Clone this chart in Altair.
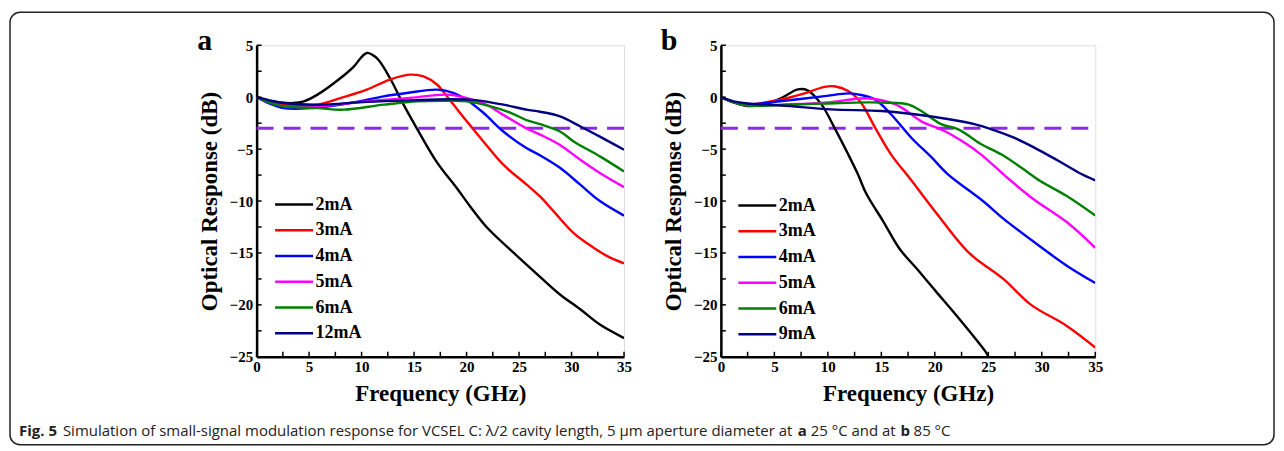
import altair as alt
import pandas as pd

# ---------------- data ----------------
NAMES_A = ["2mA", "3mA", "4mA", "5mA", "6mA", "12mA"]
NAMES_B = ["2mA", "3mA", "4mA", "5mA", "6mA", "9mA"]
COLORS = ["#000000", "#FF0000", "#0000FF", "#FF00FF", "#008000", "#000080"]

# panel a (25 °C)
a2_f = [0, 1.5, 3.5, 4.5, 5.8, 8.0, 9.3, 9.9, 10.5, 11.0, 11.6, 12.7, 14.0, 15.6, 17.2, 19.1, 20.4, 21.9, 24.5, 27, 28.9, 30.8, 32.7, 35]
a2_v = [0, -0.4, -0.56, -0.4, 0.25, 1.85, 3.0, 3.75, 4.26, 4.1, 3.6, 1.85, -0.72, -3.6, -6.3, -8.8, -10.6, -12.5, -15.0, -17.3, -19.0, -20.4, -21.9, -23.2]
a3_f = [0, 1.5, 2.6, 4.5, 5.8, 8.0, 10.5, 12.7, 14.6, 15.9, 17.2, 18.5, 20, 21.6, 23.5, 25.7, 27, 28.3, 30.2, 32.1, 33.4, 35]
a3_v = [0, -0.5, -0.72, -0.8, -0.72, -0.08, 0.73, 1.7, 2.17, 2.0, 1.2, -0.4, -2.3, -4.26, -6.5, -8.4, -9.56, -11.0, -13.1, -14.5, -15.3, -16.0]
a4_f = [0, 1.2, 2.6, 5.1, 8.9, 12.1, 14.3, 17.2, 18.8, 20, 21.6, 23.5, 25.7, 27, 28.9, 30.8, 32.7, 35]
a4_v = [0, -0.6, -1.05, -1.05, -0.56, 0.08, 0.4, 0.73, 0.4, -0.24, -1.5, -3.3, -4.9, -5.6, -6.8, -8.4, -10.0, -11.4]
a5_f = [0, 1.2, 2.6, 5.8, 10.5, 14.6, 18.1, 20, 21.6, 23.5, 25.7, 27, 28.9, 30.8, 32.7, 35]
a5_v = [0, -0.5, -0.88, -0.88, -0.4, -0.08, 0.25, -0.08, -0.56, -1.7, -3.0, -3.6, -4.6, -6.0, -7.3, -8.66]
a6_f = [0, 1.2, 2.6, 5.8, 8.3, 12.1, 15.3, 18.5, 20, 22.3, 24.2, 25.7, 27, 28.9, 30.2, 32.7, 35]
a6_v = [0, -0.5, -0.88, -1.05, -1.2, -0.72, -0.4, -0.35, -0.4, -0.88, -1.5, -2.2, -2.6, -3.3, -4.26, -5.7, -7.15]
a12_f = [0, 1.2, 2.6, 5.8, 10.5, 14.6, 18.5, 21, 23.5, 25.7, 27, 28.9, 30.8, 32.7, 35]
a12_v = [0, -0.3, -0.56, -0.72, -0.45, -0.3, -0.2, -0.3, -0.72, -1.2, -1.4, -1.85, -2.8, -3.8, -5.06]

# panel b (85 °C)
b2_f = [0, 1.2, 2.5, 4.1, 5.7, 7.2, 8.1, 9.4, 10.6, 11.9, 12.8, 13.6, 15.2, 16.7, 18.3, 20.1, 22, 24.8, 25]
b2_v = [0, -0.5, -0.85, -0.69, -0.05, 0.75, 0.66, -0.69, -2.9, -5.5, -7.4, -9.3, -12.0, -14.6, -16.5, -18.7, -21.0, -24.6, -25]
b3_f = [0, 1.2, 2.5, 5.7, 7.5, 9.7, 10.6, 11.9, 13.1, 14.4, 15.9, 17.8, 20.1, 23.2, 26.4, 29.0, 32.3, 35]
b3_v = [0, -0.5, -0.7, -0.2, 0.27, 1.0, 1.05, 0.6, -0.53, -2.9, -5.5, -8.0, -11.1, -15.0, -17.5, -20.0, -22.0, -24.1]
b4_f = [0, 1.2, 2.5, 5.7, 9.7, 11.9, 12.8, 14.4, 15.9, 17.8, 19.7, 21.2, 24.5, 26.4, 30, 32.3, 35]
b4_v = [0, -0.5, -0.7, -0.37, 0.1, 0.37, 0.27, -0.21, -1.64, -3.9, -5.8, -7.4, -10.0, -11.7, -14.5, -16.2, -17.9]
b5_f = [0, 1.2, 2.5, 6, 10, 13.6, 15.8, 16.9, 18.7, 20.9, 22.5, 24.3, 26.6, 29.2, 32.3, 35]
b5_v = [0, -0.5, -0.8, -0.7, -0.5, -0.1, -0.5, -1.0, -2.3, -3.25, -4.2, -5.5, -7.6, -9.8, -12.0, -14.5]
b6_f = [0, 1.2, 2.5, 7, 10, 14, 17.5, 18.7, 20.6, 22.2, 24.3, 26.2, 28.1, 29.9, 32.3, 35]
b6_v = [0, -0.5, -0.8, -0.7, -0.6, -0.5, -0.69, -1.3, -2.6, -3.1, -4.5, -5.5, -6.8, -8.1, -9.5, -11.4]
b9_f = [0, 1.2, 2.5, 5.7, 10.3, 15.0, 18.1, 21.2, 23.7, 25.3, 27.4, 29.3, 31.5, 33.7, 35]
b9_v = [0, -0.4, -0.6, -0.8, -1.17, -1.33, -1.64, -2.1, -2.6, -3.1, -3.9, -4.85, -6.1, -7.4, -8.0]

THRESHOLD_DB = -3
X_LABELS = [0, 5, 10, 15, 20, 25, 30, 35]
Y_LABELS = [5, 0, -5, -10, -15, -20, -25]
X_TICKS = [0, 2.5, 5, 7.5, 10, 12.5, 15, 17.5, 20, 22.5, 25, 27.5, 30, 32.5, 35]
Y_TICKS = [-25, -22.5, -20, -17.5, -15, -12.5, -10, -7.5, -5, -2.5, 0, 2.5, 5]

CAPTION = [
    ("Fig. 5", "bold", 0),
    ("Simulation of small-signal modulation response for VCSEL C: \u03bb/2 cavity length, 5 \u03bcm aperture diameter at", "normal", 44),
    ("a", "bold", 780),
    ("25 \u00b0C and at", "normal", 793),
    ("b", "bold", 883),
    ("85 \u00b0C", "normal", 896),
]

SERIF = "Liberation Serif"
PURPLE = "#8B2BE8"


def panel(series, names, w, h, letter, leg_x, leg_y, extras=None):
    rows = []
    for name, (fs, vs) in zip(names, series):
        rows += [{"f": f, "dB": v, "I": name} for f, v in zip(fs, vs)]
    df = pd.DataFrame(rows)
    xs = alt.Scale(domain=[0, 35], nice=False, zero=False)
    ys = alt.Scale(domain=[-25, 5], nice=False, zero=False)
    xax = alt.Axis(values=X_LABELS, title="Frequency (GHz)", ticks=False, grid=False,
                   labelFont=SERIF, labelFontWeight="bold", labelFontSize=15, labelColor="black",
                   labelPadding=3, titleFont=SERIF, titleFontWeight="bold", titleFontSize=23,
                   titleColor="black", titlePadding=8, domainColor="black", domainWidth=2.5,
                   labelFlush=False, labelOverlap=False)
    yax = alt.Axis(values=Y_LABELS, title="Optical Response (dB)", ticks=False, grid=False,
                   labelFont=SERIF, labelFontWeight="bold", labelFontSize=15, labelColor="black",
                   labelPadding=4, titleFont=SERIF, titleFontWeight="bold", titleFontSize=23,
                   titleColor="black", titlePadding=8, domainColor="black", domainWidth=2.5,
                   labelFlush=False, labelOverlap=False)
    X = alt.X("f:Q", scale=xs, axis=xax)
    Y = alt.Y("dB:Q", scale=ys, axis=yax)

    lines = alt.Chart(df).mark_line(strokeWidth=2.4, interpolate="catmull-rom", clip=True).encode(
        x=X, y=Y,
        color=alt.Color("I:N", sort=names, scale=alt.Scale(domain=names, range=COLORS),
                        legend=alt.Legend(title=None, orient="none", legendX=leg_x, legendY=leg_y,
                                          symbolType="M-1.9,0H1.9", symbolSize=400,
                                          symbolStrokeWidth=2.5,
                                          labelFont=SERIF, labelFontWeight="bold", labelFontSize=18,
                                          labelColor="black", rowPadding=4.8, labelOffset=10)),
        order=alt.Order("idx:Q"),
    ).transform_calculate(idx="indexof(%s, datum.I)" % str(names))

    dash = alt.Chart(pd.DataFrame({"dB": [THRESHOLD_DB]})).mark_rule(
        color=PURPLE, strokeWidth=3, strokeDash=[17, 10]).encode(
        y=Y, x=alt.value(0), x2=alt.value(w))

    yt = alt.Chart(pd.DataFrame({"dB": Y_TICKS})).mark_rule(color="black", strokeWidth=1.5).encode(
        y=Y, x=alt.value(0), x2=alt.value(5))
    xt = alt.Chart(pd.DataFrame({"f": X_TICKS})).mark_rule(color="black", strokeWidth=1.5).encode(
        x=X, y=alt.value(h), y2=alt.value(h - 5))

    lab = alt.Chart(pd.DataFrame({"t": [letter]})).mark_text(
        font=SERIF, fontWeight="bold", fontSize=30, align="center", baseline="alphabetic",
        color="black").encode(text="t:N", x=alt.value(-52), y=alt.value(5))

    layers = [dash, lines, yt, xt, lab]
    if extras:
        layers = extras + layers
    return alt.layer(*layers).properties(width=w, height=h)


W_A, W_B, H = 368, 375, 312

# frame and caption (belong to the left panel's coordinate system)
frame = alt.Chart(pd.DataFrame({"k": [0]})).mark_rect(
    filled=False, stroke="#222222", strokeWidth=1.5, cornerRadius=10).encode(
    x=alt.value(-247), x2=alt.value(1019), y=alt.value(-33), y2=alt.value(400))

cap_layers = []
for txt, wt, dx in CAPTION:
    cap_layers.append(
        alt.Chart(pd.DataFrame({"t": [txt]})).mark_text(
            font="Open Sans", fontSize=15, fontWeight=wt, align="left",
            baseline="alphabetic", color="#222222").encode(
            text="t:N", x=alt.value(-238 + dx), y=alt.value(391)))

pa = panel([(a2_f, a2_v), (a3_f, a3_v), (a4_f, a4_v), (a5_f, a5_v), (a6_f, a6_v), (a12_f, a12_v)],
           NAMES_A, W_A, H, "a", 26, 148, extras=[frame] + cap_layers)
pb = panel([(b2_f, b2_v), (b3_f, b3_v), (b4_f, b4_v), (b5_f, b5_v), (b6_f, b6_v), (b9_f, b9_v)],
           NAMES_B, W_B, H, "b", 25, 149)

chart = alt.hconcat(pa, pb, spacing=97, bounds="flush").resolve_scale(
    color="independent").properties(
    padding={"left": 0, "top": 2, "right": 0, "bottom": 0}).configure_view(
    stroke="black", strokeWidth=2.5).configure(background="white")

chart.save("out.html", embed_options={"renderer": "svg", "actions": False})
